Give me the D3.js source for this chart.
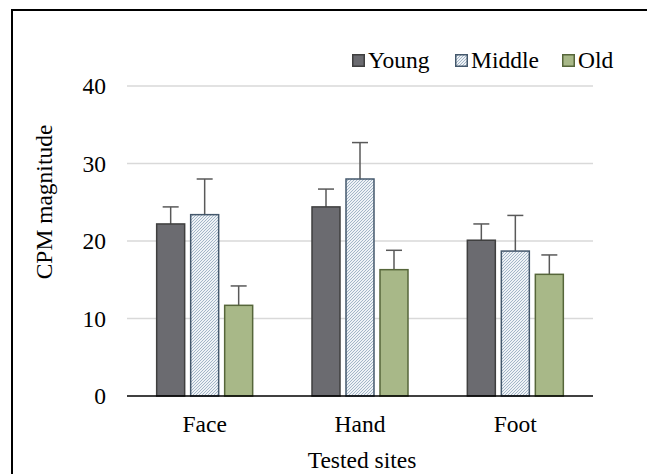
<!DOCTYPE html>
<html><head><meta charset="utf-8">
<script src="https://cdn.jsdelivr.net/npm/d3@7"></script>
<style>body{margin:0;background:#fff}svg{display:block}</style>
</head><body><svg id="c" width="647" height="474" font-family="'Liberation Serif', 'DejaVu Serif', serif"></svg>
<script>
const categories = ["Face", "Hand", "Foot"];
const series = ["Young", "Middle", "Old"];
const young = [22.2, 24.4, 20.1];
const middle = [23.4, 28.0, 18.7];
const old = [11.7, 16.3, 15.7];
const youngErr = [2.2, 2.3, 2.1];
const middleErr = [4.6, 4.7, 4.6];
const oldErr = [2.5, 2.5, 2.5];
const yTicks = [0, 10, 20, 30, 40];

const values = [young, middle, old];
const errs = [youngErr, middleErr, oldErr];

const svg = d3.select("#c");
const W = 647, H = 474;
const L = 127, R = 593, T = 86, B = 396;
const FONT = "'Liberation Serif', 'DejaVu Serif', serif";
const FS = 23.5;

const defs = svg.append("defs");
const pat = defs.append("pattern").attr("id", "hatch").attr("patternUnits", "userSpaceOnUse")
  .attr("width", 3).attr("height", 3);
pat.append("rect").attr("width", 3).attr("height", 3).attr("fill", "#eef2f6");
pat.append("path").attr("d", "M-1,1 l2,-2 M0,3 l3,-3 M2,4 l2,-2").attr("stroke", "#a3b6c8").attr("stroke-width", 1);

// frame (cropped: top and left)
svg.append("line").attr("x1", 12).attr("x2", W).attr("y1", 10).attr("y2", 10).attr("stroke", "#000").attr("stroke-width", 2);
svg.append("line").attr("x1", 12).attr("x2", 12).attr("y1", 9).attr("y2", H).attr("stroke", "#000").attr("stroke-width", 2);

const y = d3.scaleLinear().domain([0, 40]).range([B, T]);
const x0 = d3.scaleBand().domain(categories).range([L, R]).paddingInner(0.382).paddingOuter(0.191);
const x1 = d3.scaleBand().domain(series).range([0, x0.bandwidth()]).paddingInner(0.1765).paddingOuter(0);

// gridlines
svg.append("g").selectAll("line").data(yTicks.filter(d => d > 0)).join("line")
  .attr("x1", L).attr("x2", R).attr("y1", d => y(d)).attr("y2", d => y(d))
  .attr("stroke", "#d9d9d9").attr("stroke-width", 1.5);

// y tick labels
svg.append("g").selectAll("text").data(yTicks).join("text")
  .attr("font-family", FONT)
  .attr("x", 106).attr("y", d => y(d)).attr("dy", "0.35em").attr("text-anchor", "end")
  .attr("font-size", FS).text(d => d);

const fills = ["#6b6b70", "url(#hatch)", "#a8b888"];
const strokes = ["#3f3f3f", "#44586c", "#56663a"];

const data = [];
categories.forEach((c, ci) => series.forEach((s, si) => data.push({c, s, si, v: values[si][ci], e: errs[si][ci]})));

// error bars
const eb = svg.append("g");
data.forEach(d => {
  const cx = x0(d.c) + x1(d.s) + x1.bandwidth() / 2;
  eb.append("line").attr("x1", cx).attr("x2", cx).attr("y1", y(d.v)).attr("y2", y(d.v + d.e))
    .attr("stroke", "#595959").attr("stroke-width", 1.5);
  eb.append("line").attr("x1", cx - 8).attr("x2", cx + 8).attr("y1", y(d.v + d.e)).attr("y2", y(d.v + d.e))
    .attr("stroke", "#595959").attr("stroke-width", 1.5);
});

svg.append("g").selectAll("rect").data(data).join("rect")
  .attr("x", d => x0(d.c) + x1(d.s)).attr("y", d => y(d.v))
  .attr("width", x1.bandwidth()).attr("height", d => y(0) - y(d.v))
  .attr("fill", d => fills[d.si]).attr("stroke", d => strokes[d.si]).attr("stroke-width", 1.5);

// baseline
svg.append("line").attr("x1", L).attr("x2", R).attr("y1", B).attr("y2", B).attr("stroke", "#000").attr("stroke-width", 1.5);

// x labels
svg.append("g").selectAll("text").data(categories).join("text")
  .attr("font-family", FONT)
  .attr("x", d => x0(d) + x0.bandwidth() / 2).attr("y", 432).attr("text-anchor", "middle")
  .attr("font-size", FS).text(d => d);

svg.append("text").attr("font-family", FONT).attr("x", 362).attr("y", 468).attr("text-anchor", "middle").attr("font-size", FS).text("Tested sites");
svg.append("text").attr("font-family", FONT).attr("transform", "translate(52,202) rotate(-90)").attr("text-anchor", "middle")
  .attr("font-size", FS).text("CPM magnitude");

// legend
const legX = [352, 455, 562];
const lg = svg.append("g");
series.forEach((s, i) => {
  lg.append("rect").attr("x", legX[i] + 0.75).attr("y", 54.75).attr("width", 11.5).attr("height", 11.5)
    .attr("fill", fills[i]).attr("stroke", strokes[i]).attr("stroke-width", 1.5);
  lg.append("text").attr("font-family", FONT).attr("x", legX[i] + 16).attr("y", 67.5).attr("font-size", FS).text(s);
});
</script></body></html>
